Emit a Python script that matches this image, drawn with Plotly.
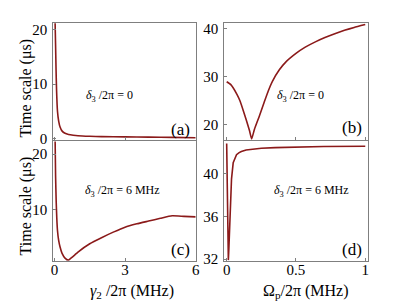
import plotly.graph_objects as go

# ---- data ----
gamma_a = [0.03, 0.05, 0.07, 0.09, 0.13, 0.18, 0.24, 0.32, 0.45, 0.6, 0.8, 1.0, 1.5, 2, 3, 4, 5, 6]
tau_a = [21.2, 17, 12.5, 9, 5, 3.2, 2.1, 1.4, 0.95, 0.75, 0.6, 0.5, 0.4, 0.35, 0.3, 0.25, 0.2, 0.15]

omega_b = [0, 0.03, 0.074, 0.095, 0.12, 0.142, 0.165, 0.18, 0.2, 0.236, 0.27, 0.3, 0.33, 0.38, 0.426,
           0.5, 0.567, 0.64, 0.709, 0.78, 0.85, 0.92, 1.0]
tau_b = [28.9, 28.3, 26.3, 25.0, 22.9, 20.9, 18.7, 17.0, 19.0, 21.8, 24.6, 27.0, 29.0, 31.4, 33.0,
         34.8, 36.1, 37.2, 38.1, 38.9, 39.6, 40.2, 40.8]

gamma_c = [0.03, 0.05, 0.075, 0.1, 0.13, 0.18, 0.24, 0.32, 0.45, 0.59, 0.7, 0.87, 1.0, 1.5,
           2, 2.5, 3, 3.5, 4, 4.5, 5, 5.5, 6]
tau_c = [22.5, 16, 11.5, 8.5, 6.2, 4.4, 3.2, 2.1, 1.2, 0.85, 1.2, 1.8, 2.3, 3.8,
         4.9, 5.9, 6.8, 7.4, 7.9, 8.4, 8.85, 8.75, 8.65]

omega_d = [0, 0.004, 0.008, 0.012, 0.016, 0.02, 0.025, 0.03, 0.035, 0.047, 0.06, 0.071, 0.09,
           0.106, 0.14, 0.177, 0.25, 0.35, 0.5, 0.7, 1.0]
tau_d = [42.8, 39, 35, 31.9, 33, 34.5, 36.8, 38.5, 39.5, 41.0, 41.5, 41.76, 41.95,
         42.06, 42.2, 42.27, 42.36, 42.42, 42.48, 42.52, 42.55]

W, H = 398, 302
RED = "#8B1A1A"
FRAME = "#7f7f7f"
FONT = "Liberation Serif, Times New Roman, Times, serif"

def px_x(p):
    return p / W

def px_y(p):
    return 1 - p / H

fig = go.Figure()

fig.add_trace(go.Scatter(x=gamma_a, y=tau_a, xaxis="x", yaxis="y", mode="lines",
                         line=dict(color=RED, width=1.6, shape="spline", smoothing=0.6)))
fig.add_trace(go.Scatter(x=omega_b, y=tau_b, xaxis="x2", yaxis="y2", mode="lines",
                         line=dict(color=RED, width=1.6, shape="spline", smoothing=0.4)))
fig.add_trace(go.Scatter(x=gamma_c, y=tau_c, xaxis="x3", yaxis="y3", mode="lines",
                         line=dict(color=RED, width=1.6, shape="spline", smoothing=0.5)))
fig.add_trace(go.Scatter(x=omega_d, y=tau_d, xaxis="x4", yaxis="y4", mode="lines",
                         line=dict(color=RED, width=1.6)))

left_dom = [px_x(43), px_x(188)]
right_dom = [px_x(217), px_x(363)]
top_dom = [px_y(134), px_y(13)]
bot_dom = [px_y(258), px_y(135)]

def axis_common(standoff=2):
    return dict(showline=True, mirror=True, linecolor=FRAME, linewidth=1,
                ticks="inside", ticklen=3, tickcolor=FRAME, showgrid=False, zeroline=False,
                ticklabelstandoff=standoff,
                tickfont=dict(family=FONT, size=15, color="black"))

fig.update_layout(
    width=W, height=H, margin=dict(l=0, r=0, t=0, b=0),
    paper_bgcolor="white", plot_bgcolor="white", showlegend=False,
    font=dict(family=FONT),
    xaxis=dict(domain=left_dom, anchor="y", range=[-0.05, 6.0], tickvals=[0, 3, 6],
               showticklabels=False, **axis_common()),
    yaxis=dict(domain=top_dom, anchor="x", range=[-0.36, 21.3], tickvals=[0, 10, 20], **axis_common()),
    xaxis2=dict(domain=right_dom, anchor="y2", range=[-0.018, 1.017], tickvals=[0, 0.5, 1],
                showticklabels=False, **axis_common()),
    yaxis2=dict(domain=top_dom, anchor="x2", range=[16.7, 41.2], tickvals=[20, 30, 40], **axis_common()),
    xaxis3=dict(domain=left_dom, anchor="y3", range=[-0.05, 6.0], tickvals=[0, 3, 6], **axis_common(-5)),
    yaxis3=dict(domain=bot_dom, anchor="x3", range=[0.65, 22.3], tickvals=[10, 20], **axis_common()),
    xaxis4=dict(domain=right_dom, anchor="y4", range=[-0.018, 1.017], tickvals=[0, 0.5, 1],
                ticktext=["0", "0.5", "1"], **axis_common(-5)),
    yaxis4=dict(domain=bot_dom, anchor="x4", range=[31.8, 43.0], tickvals=[32, 36, 40], **axis_common()),
)

def ann(text, x, y, size, xanchor="center", angle=0):
    fig.add_annotation(text=text, x=px_x(x), y=px_y(y), xref="paper", yref="paper",
                       xanchor=xanchor, yanchor="middle", showarrow=False, textangle=angle,
                       font=dict(family=FONT, size=size, color="black"))

ann("<i>δ</i><sub>3</sub> /2π = 0", 100, 88, 12)
ann("<i>δ</i><sub>3</sub> /2π = 0", 295, 88, 12)
ann("<i>δ</i><sub>3</sub> /2π = 6 MHz", 114, 186, 12)
ann("<i>δ</i><sub>3</sub> /2π = 6 MHz", 306, 186, 12)

ann("(a)", 184, 123, 17, xanchor="right")
ann("(b)", 359, 121, 17, xanchor="right")
ann("(c)", 184, 246, 17, xanchor="right")
ann("(d)", 359, 246, 17, xanchor="right")

ann("Time scale (μs)", 15, 80, 16, angle=-90)
ann("Time scale (μs)", 15, 201, 16, angle=-90)
ann("<i>γ</i><sub>2</sub> /2π (MHz)", 123, 289, 16)
ann("Ω<sub>p</sub>/2π (MHz)", 300, 289, 16)

fig.write_html("out.html")
